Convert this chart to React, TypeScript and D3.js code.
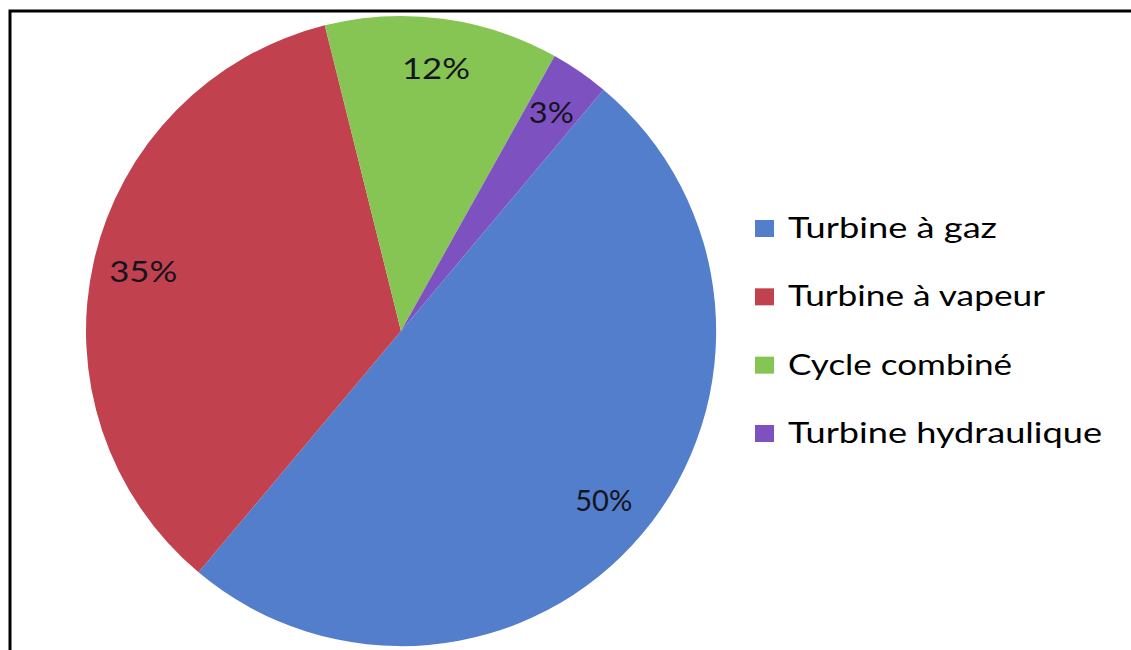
import React from 'react';
import * as d3 from 'd3';

const width = 1131;
const height = 650;
const center = {x: 401, y: 331};
const radius = 315;
const startDeg = 40;

const categories = ['Turbine à gaz', 'Turbine à vapeur', 'Cycle combiné', 'Turbine hydraulique'];
const values = [50, 35, 12, 3];
const labels = ['50%', '35%', '12%', '3%'];
const colors = ['#527ecb', '#c2414f', '#86c453', '#7d52c0'];

// measured text widths (the source image is stretched horizontally)
const legendWidths = [209, 257, 224, 314];
const labelWidths = [57, 68, 68, 45];

const font = 'Lato, "Open Sans", sans-serif';

const App: React.FC = () => {
  const start = (startDeg * Math.PI) / 180;
  const pie = d3.pie<number>()
    .sort(null)
    .startAngle(start)
    .endAngle(start + 2 * Math.PI);
  const arcs = pie(values);

  const arc = d3.arc<d3.PieArcDatum<number>>()
    .innerRadius(0)
    .outerRadius(radius);

  const labelArc = d3.arc<d3.PieArcDatum<number>>()
    .innerRadius(radius * 0.84)
    .outerRadius(radius * 0.84);

  const legendY = d3.scalePoint<string>()
    .domain(categories)
    .range([238, 443]);

  return (
    <svg width={width} height={height} style={{position: 'absolute', left: 0, top: 0}}>
      <rect x={0} y={0} width={width} height={height} fill='#fff' />
      <rect x={10} y={11} width={width + 50} height={height + 50} fill='none' stroke='#000' strokeWidth='3' />
      <g transform={`translate(${center.x}, ${center.y})`}>
        {arcs.map((a, i) => (
          <path key={i} d={arc(a) || ''} fill={colors[i]} />
        ))}
        {arcs.map((a, i) => {
          const [x, y] = labelArc.centroid(a);
          return (
            <text key={i} x={x} y={y} dy='0.35em' textAnchor='middle'
              fontFamily={font} fontSize='29' fill='#141420'
              textLength={labelWidths[i]} lengthAdjust='spacingAndGlyphs'>
              {labels[i]}
            </text>
          );
        })}
      </g>
      <g>
        {categories.map((c, i) => {
          const y = legendY(c) as number;
          return (
            <g key={c}>
              <rect x={755} y={y - 18} width={19} height={17} fill={colors[i]} />
              <text x={788} y={y} fontFamily={font} fontSize='28' fill='#000'
                textLength={legendWidths[i]} lengthAdjust='spacingAndGlyphs'>
                {c}
              </text>
            </g>
          );
        })}
      </g>
    </svg>
  );
};

export default App;
